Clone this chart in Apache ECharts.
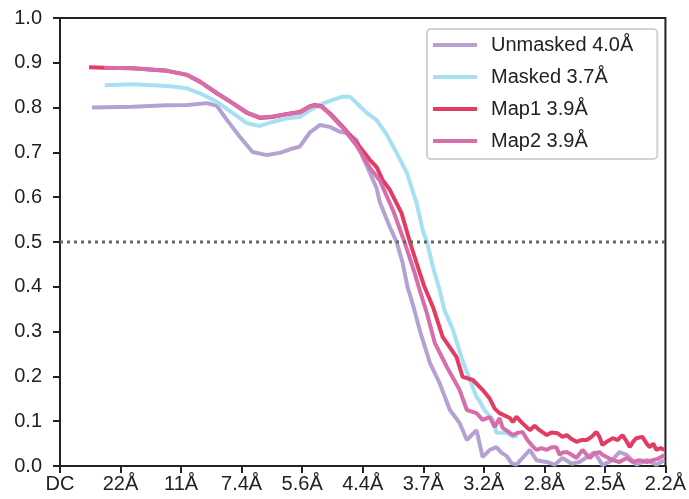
<!DOCTYPE html>
<html>
<head>
<meta charset="utf-8">
<script src="https://cdn.jsdelivr.net/npm/echarts@6/dist/echarts.min.js"></script>
<style>
  html, body { margin: 0; padding: 0; background: #fff; }
  #chart { width: 689px; height: 499px; }
</style>
</head>
<body>
<div id="chart"></div>
<script>
// tick positions 0..10 are evenly spaced in spatial frequency
const xTickLabels = ['DC', '22Å', '11Å', '7.4Å', '5.6Å', '4.4Å', '3.7Å', '3.2Å', '2.8Å', '2.5Å', '2.2Å'];
const seriesNames = ['Unmasked 4.0Å', 'Masked 3.7Å', 'Map1 3.9Å', 'Map2 3.9Å'];
const seriesColors = ['#b4a2d3', '#a7e0f3', '#e23c63', '#d66eab'];

// [frequency tick position, FSC]
const unmasked = [
  [0.53, 0.800], [1.20, 0.802], [1.77, 0.805], [2.10, 0.806], [2.43, 0.810], [2.59, 0.804],
  [2.76, 0.772], [2.97, 0.735], [3.18, 0.701], [3.42, 0.694], [3.63, 0.699], [3.80, 0.707],
  [3.96, 0.713], [4.13, 0.745], [4.29, 0.761], [4.46, 0.757], [4.62, 0.746], [4.74, 0.743],
  [4.90, 0.728], [5.00, 0.690], [5.12, 0.654], [5.23, 0.620], [5.28, 0.590], [5.45, 0.533],
  [5.56, 0.500], [5.66, 0.453], [5.74, 0.400], [5.83, 0.360], [5.94, 0.304], [6.11, 0.230],
  [6.27, 0.185], [6.44, 0.125], [6.60, 0.096], [6.72, 0.058], [6.88, 0.080], [6.98, 0.020],
  [7.10, 0.036], [7.21, 0.042], [7.29, 0.030], [7.38, 0.022], [7.46, 0.006], [7.54, 0.003],
  [7.64, 0.018], [7.76, 0.036], [7.87, 0.013], [8.04, 0.009], [8.17, 0.003], [8.30, 0.018],
  [8.45, 0.005], [8.58, 0.009], [8.71, 0.020], [8.83, 0.031], [8.96, 0.002], [9.11, 0.012],
  [9.24, 0.031], [9.36, 0.025], [9.52, 0.003], [9.69, 0.013], [9.85, 0.003], [9.98, 0.013]
];
const masked = [
  [0.74, 0.850], [1.20, 0.852], [1.77, 0.848], [2.10, 0.843], [2.31, 0.832], [2.59, 0.813],
  [2.85, 0.788], [3.09, 0.765], [3.30, 0.759], [3.51, 0.768], [3.75, 0.776], [3.96, 0.779],
  [4.08, 0.790], [4.17, 0.797], [4.29, 0.806], [4.46, 0.815], [4.65, 0.824], [4.79, 0.824],
  [4.90, 0.810], [5.07, 0.788], [5.23, 0.772], [5.40, 0.739], [5.56, 0.699], [5.73, 0.654],
  [5.89, 0.587], [5.99, 0.527], [6.06, 0.500], [6.16, 0.444], [6.27, 0.393], [6.35, 0.348],
  [6.49, 0.304], [6.63, 0.243], [6.77, 0.192], [6.88, 0.154], [6.93, 0.145], [7.01, 0.125],
  [7.15, 0.103], [7.21, 0.074], [7.38, 0.074], [7.48, 0.065], [7.56, 0.068]
];
const map1 = [
  [0.48, 0.890], [0.73, 0.889], [1.20, 0.888], [1.49, 0.885], [1.77, 0.882], [2.10, 0.873],
  [2.31, 0.858], [2.59, 0.832], [2.85, 0.810], [3.09, 0.788], [3.30, 0.777], [3.51, 0.779],
  [3.75, 0.786], [3.96, 0.790], [4.13, 0.803], [4.21, 0.806], [4.32, 0.803], [4.46, 0.787],
  [4.67, 0.757], [4.90, 0.721], [5.12, 0.683], [5.23, 0.667], [5.33, 0.638], [5.45, 0.616],
  [5.64, 0.565], [5.78, 0.500], [5.89, 0.453], [6.02, 0.400], [6.16, 0.355], [6.32, 0.288],
  [6.55, 0.243], [6.65, 0.199], [6.82, 0.192], [6.98, 0.170], [7.10, 0.150], [7.18, 0.128],
  [7.26, 0.118], [7.43, 0.107], [7.48, 0.098], [7.54, 0.110], [7.62, 0.098], [7.76, 0.080],
  [7.84, 0.090], [7.92, 0.080], [8.04, 0.069], [8.12, 0.075], [8.22, 0.073], [8.30, 0.065],
  [8.37, 0.069], [8.45, 0.060], [8.53, 0.054], [8.61, 0.058], [8.70, 0.058], [8.78, 0.065],
  [8.86, 0.076], [8.91, 0.065], [8.96, 0.047], [9.04, 0.055], [9.13, 0.062], [9.21, 0.058],
  [9.29, 0.069], [9.36, 0.055], [9.41, 0.042], [9.47, 0.055], [9.52, 0.062], [9.62, 0.065],
  [9.69, 0.050], [9.74, 0.042], [9.80, 0.050], [9.85, 0.036], [9.92, 0.040], [9.98, 0.036]
];
const map2 = [
  [0.73, 0.889], [1.20, 0.888], [1.77, 0.882], [2.10, 0.873], [2.31, 0.858], [2.59, 0.833],
  [2.85, 0.810], [3.09, 0.789], [3.30, 0.778], [3.51, 0.780], [3.75, 0.785], [3.96, 0.789],
  [4.13, 0.802], [4.21, 0.805], [4.32, 0.802], [4.46, 0.785], [4.67, 0.755], [4.90, 0.715],
  [5.12, 0.665], [5.28, 0.638], [5.50, 0.571], [5.69, 0.500], [5.86, 0.430], [5.94, 0.393],
  [6.06, 0.341], [6.19, 0.275], [6.39, 0.221], [6.60, 0.170], [6.72, 0.125], [6.88, 0.118],
  [6.98, 0.103], [7.10, 0.109], [7.18, 0.087], [7.26, 0.107], [7.31, 0.085], [7.39, 0.078],
  [7.48, 0.069], [7.56, 0.074], [7.64, 0.076], [7.72, 0.058], [7.80, 0.045], [7.87, 0.036],
  [7.95, 0.040], [8.04, 0.036], [8.12, 0.042], [8.20, 0.042], [8.25, 0.025], [8.30, 0.030],
  [8.37, 0.031], [8.45, 0.025], [8.53, 0.018], [8.63, 0.036], [8.70, 0.025], [8.75, 0.018],
  [8.83, 0.028], [8.91, 0.031], [8.96, 0.025], [9.03, 0.020], [9.13, 0.013], [9.24, 0.009],
  [9.36, 0.018], [9.46, 0.009], [9.57, 0.013], [9.69, 0.009], [9.79, 0.013], [9.87, 0.016],
  [9.93, 0.020], [9.98, 0.025]
];
const threshold = 0.5;

const chart = echarts.init(document.getElementById('chart'), null, { renderer: 'canvas' });
const font = 'Liberation Sans';
const dataList = [unmasked, masked, map1, map2];

const series = dataList.map(function (d, i) {
  return {
    name: seriesNames[i],
    type: 'line',
    data: d,
    showSymbol: false,
    symbol: 'none',
    color: seriesColors[i],
    lineStyle: { width: 4, color: seriesColors[i] },
    z: 2 + i
  };
});
// dotted 0.5 line
series.push({
  name: 'threshold',
  type: 'line',
  data: [[0, threshold], [10, threshold]],
  showSymbol: false,
  symbol: 'none',
  lineStyle: { width: 3, color: '#666', type: [3, 4] },
  z: 10
});

var option = {
  animation: false,
  backgroundColor: '#fff',
  grid: {
    left: 60, right: 23, top: 18, bottom: 33,
    show: true, borderColor: '#222', borderWidth: 2
  },
  legend: {
    data: seriesNames,
    orient: 'vertical',
    left: 427,
    top: 29,
    icon: 'rect',
    itemWidth: 44,
    itemHeight: 4,
    itemGap: 12,
    padding: [6, 24, 8, 6],
    backgroundColor: '#fff',
    borderColor: '#d2d2d2',
    borderWidth: 2,
    borderRadius: 4,
    textStyle: { fontFamily: font, fontSize: 20, color: '#222', padding: [0, 0, 0, 9] }
  },
  xAxis: {
    type: 'value',
    min: 0,
    max: 10,
    interval: 1,
    axisLine: { lineStyle: { color: '#222', width: 2 } },
    axisTick: { show: true, length: 7, lineStyle: { color: '#222', width: 2 } },
    splitLine: { show: false },
    axisLabel: {
      fontFamily: font, fontSize: 20, color: '#222', margin: 8,
      showMinLabel: true, showMaxLabel: true,
      formatter: function (v) { return xTickLabels[Math.round(v)]; }
    }
  },
  yAxis: {
    type: 'value',
    min: 0,
    max: 1,
    interval: 0.1,
    axisLine: { show: true, lineStyle: { color: '#222', width: 2 } },
    axisTick: { show: true, length: 7, lineStyle: { color: '#222', width: 2 } },
    splitLine: { show: false },
    axisLabel: {
      fontFamily: font, fontSize: 20, color: '#222', margin: 18,
      formatter: function (v) { return v.toFixed(1); }
    }
  },
  series: series
};
chart.setOption(option);
</script>
</body>
</html>
